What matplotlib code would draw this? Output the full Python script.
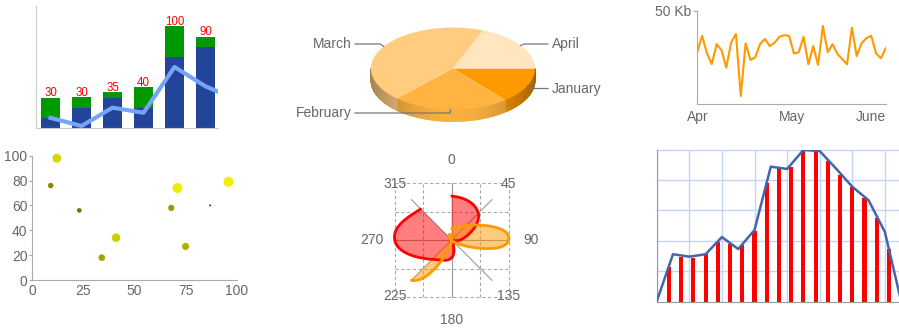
import numpy as np
import matplotlib
matplotlib.use("Agg")
import matplotlib.pyplot as plt
from matplotlib.path import Path
from matplotlib.patches import PathPatch
from matplotlib.collections import PolyCollection
from matplotlib.colors import to_rgb

plt.rcParams['font.family'] = ['Liberation Sans', 'DejaVu Sans']

# ---------------- data ----------------
# stacked bars with an overlay line
bar_blue = [10, 20, 30, 20, 70, 80]
bar_green = [20, 10, 5, 20, 30, 10]
bar_line = [10, 2, 20, 15, 60, 41, 28]

# 3D pie
pie_labels = ['January', 'February', 'March', 'April']
pie_values = [14, 23, 44, 19]

# traffic line
traffic_kb = [28.1, 36.6, 27.2, 21.5, 32.1, 29.0, 19.6, 32.9, 37.6, 4.4,
              32.6, 23.7, 25.1, 32.2, 34.9, 31.1, 32.9, 36.1, 36.9, 36.6,
              27.2, 27.8, 36.1, 21.4, 31.1, 21.0, 41.8, 27.8, 32.1, 26.9,
              24.2, 21.4, 40.9, 25.8, 32.6, 35.3, 36.6, 27.2, 24.6, 29.9]
traffic_months = ['Apr', 'May', 'June']

# scatter (x, y, size)
scatter_x = [12, 87, 75, 41, 23, 96, 68, 71, 34, 9]
scatter_y = [98, 60, 27, 34, 56, 79, 58, 74, 18, 76]
scatter_size = [84, 23, 69, 81, 47, 94, 60, 93, 64, 54]

# radar
radar_labels = ['0', '45', '90', '135', '180', '225', '270', '315']
radar_red = [77, 66, 15, 0, 31, 48, 100, 77]
radar_orange = [20, 36, 100, 2, 0, 100]

# line with drop bars
area_line = [0, 31.1, 29.5, 31.1, 42.4, 34.5, 47.0, 88.7, 87.2, 99.7,
             99.0, 87.5, 75.5, 66.6, 45.7, 0]
area_bars = [22.9, 29.5, 28.8, 31.1, 39.3, 37.6, 37.2, 46.4, 77.8, 87.6,
             88.7, 99.7, 98.6, 92.4, 83.2, 75.5, 67.9, 55.1, 34.5]

LABEL = '#676767'
W, H = 899, 328
fig = plt.figure(figsize=(W / 100, H / 100), dpi=100)


def px_axes(x0, y0, x1, y1):
    return fig.add_axes([x0 / W, 1 - y1 / H, (x1 - x0) / W, (y1 - y0) / H])


# ---------------- stacked bars ----------------
ax1 = px_axes(36, 6, 218, 128)
idx = np.arange(len(bar_blue))
blue = np.array(bar_blue)
green = np.array(bar_green)
ax1.bar(idx, blue, width=0.61, color='#224499', zorder=2)
ax1.bar(idx, green, bottom=blue, width=0.61, color='#009900', zorder=2)
for i, t in enumerate(blue + green):
    ax1.annotate(str(t), (i, t), xytext=(0, 1), textcoords='offset points',
                 ha='center', va='baseline', color='#FF0000', fontsize=8.3)
ax1.plot(np.arange(len(bar_line)), bar_line, color='#76A4FB', lw=3,
         solid_joinstyle='round', zorder=3)
ax1.set_xlim(-0.468, 5.403)
ax1.set_ylim(0, 120)
for s in ['top', 'right']:
    ax1.spines[s].set_visible(False)
for s in ['left', 'bottom']:
    ax1.spines[s].set_color('#cccccc')
ax1.set_xticks([])
ax1.set_yticks([])

# ---------------- 3D pie ----------------
cx, cy, ra, rb, thick = 453.0, 68.5, 82.0, 41.0, 12.0
axp = px_axes(290, 0, 620, 135)
base = np.array(to_rgb('#FF9900'))
tints = [base + (1 - base) * k for k in (0.0, 0.25, 0.5, 0.75)]
vals = np.array(pie_values, dtype=float)
edges = np.concatenate([[0], np.cumsum(vals / vals.sum()) * 360])

# side wall (front half), shaded across its width
h = thick / rb
polys, cols = [], []
step = 1.0
for t0 in np.arange(0, 180, step):
    t1 = t0 + step
    tm = np.radians(t0 + step / 2)
    k = min(np.searchsorted(edges, t0 + step / 2) - 1, len(vals) - 1)
    a0, a1 = np.radians(t0), np.radians(t1)
    p0 = (np.cos(a0), -np.sin(a0))
    p1 = (np.cos(a1), -np.sin(a1))
    polys.append([p0, p1, (p1[0], p1[1] - h), (p0[0], p0[1] - h)])
    shade = 0.65 + 0.33 * np.sin(tm) ** 2
    cols.append(np.clip(tints[k] * shade, 0, 1))
pc = PolyCollection(polys, facecolors=cols, edgecolors=cols, linewidths=0.6,
                    zorder=1)
axp.add_collection(pc)

axp.pie(vals, colors=tints, startangle=0, counterclock=False, radius=1,
        wedgeprops=dict(linewidth=0, zorder=2))
axp.set_aspect('auto')
axp.set_xlim((290 - cx) / ra, (620 - cx) / ra)
axp.set_ylim(-(135 - cy) / rb, cy / rb)
axp.axis('off')

label_y = [88.5, 113, 44, 44]
for lab, k, ly in zip(pie_labels, range(len(vals)), label_y):
    m = np.radians((edges[k] + edges[k + 1]) / 2)
    rx, ry = cx + ra * np.cos(m), cy + rb * np.sin(m)
    ex = rx + 4 * np.cos(m)
    if np.cos(m) > 0:
        end, tx, ha = 548, 552, 'left'
    else:
        end, tx, ha = 355, 352, 'right'
    xs = np.array([rx, ex, end])
    ys = np.array([ry, ly, ly])
    axp.plot((xs - cx) / ra, (cy - ys) / rb, color='#777777', lw=0.9,
             zorder=3, clip_on=False)
    axp.text((tx - cx) / ra, (cy - ly) / rb, lab, ha=ha, va='center',
             color=LABEL, fontsize=10)

# ---------------- traffic line ----------------
ax3 = px_axes(697.3, 10.7, 885.7, 104.3)
ax3.plot(np.arange(len(traffic_kb)), traffic_kb, color='#FF9900', lw=1.5)
ax3.set_xlim(0, len(traffic_kb) - 1)
ax3.set_ylim(0, 50)
for s in ['top', 'right']:
    ax3.spines[s].set_visible(False)
for s in ['left', 'bottom']:
    ax3.spines[s].set_color('#aaaaaa')
ax3.set_yticks([50])
ax3.set_yticklabels(['50 Kb'])
n = len(traffic_kb) - 1
ax3.set_xticks([0, n / 2, n])
ax3.set_xticklabels(traffic_months)
ax3.tick_params(axis='y', length=3, color='#aaaaaa', pad=1, labelsize=10,
                labelcolor=LABEL)
ax3.tick_params(axis='x', length=0, pad=4, labelsize=10, labelcolor=LABEL)
# keep the last month label inside the right edge
last = ax3.get_xticklabels()[-1]
last.set_horizontalalignment('right')
last.set_x(n + 0.6)

# ---------------- scatter ----------------
ax4 = px_axes(32.3, 155.7, 236.7, 280)
sz = np.array(scatter_size, dtype=float)
diam_pt = (0.113 * sz - 0.6) * 0.72
colors = [(v / 100, v / 100, 0) for v in sz]
ax4.scatter(scatter_x, scatter_y, s=diam_pt ** 2, c=colors, linewidths=0,
            clip_on=False, zorder=3)
ax4.set_xlim(0, 100)
ax4.set_ylim(0, 100)
for s in ['top', 'right']:
    ax4.spines[s].set_visible(False)
for s in ['left', 'bottom']:
    ax4.spines[s].set_color('#aaaaaa')
ax4.set_xticks([0, 25, 50, 75, 100])
ax4.set_yticks([0, 20, 40, 60, 80, 100])
ax4.tick_params(axis='y', length=2.5, color='#aaaaaa', pad=1, labelsize=10,
                labelcolor=LABEL)
ax4.tick_params(axis='x', length=0, pad=3, labelsize=10, labelcolor=LABEL)

# ---------------- radar ----------------
rcx, rcy, rr = 451.7, 240.0, 57.0
axr = px_axes(360, 145, 545, 328)
axr.set_xlim((360 - rcx) / rr, (545 - rcx) / rr)
axr.set_ylim(-(328 - rcy) / rr, (rcy - 145) / rr)
axr.axis('off')
dash = (0, (3, 2.2))
for g in [-1, -0.5, 0, 0.5, 1]:
    axr.plot([g, g], [-1, 1], ls=dash, color='#aaaaaa', lw=0.8, zorder=1)
    axr.plot([-1, 1], [g, g], ls=dash, color='#aaaaaa', lw=0.8, zorder=1)
n_spokes = len(radar_labels)
for k, lab in enumerate(radar_labels):
    th = np.radians(k * 360 / n_spokes)
    axr.plot([0, np.sin(th)], [0, np.cos(th)], color='#999999', lw=0.8,
             zorder=1)
    axr.text(1.4 * np.sin(th), 1.4 * np.cos(th), lab, ha='center',
             va='center', color=LABEL, fontsize=10)


def radar_path(values):
    """Smooth open curve: cubic Hermite in (angle, radius), drawn as
    Cartesian Bezier segments with matching end points and tangents."""
    r = np.array(values, dtype=float) / 100
    dth = 2 * np.pi / n_spokes
    th = np.arange(len(r)) * dth
    rp = np.concatenate([[r[0]], r, [r[-1]]])
    m = (rp[2:] - rp[:-2]) / (2 * dth)
    P = np.column_stack([r * np.sin(th), r * np.cos(th)])
    T = np.column_stack([m * np.sin(th) + r * np.cos(th),
                         m * np.cos(th) - r * np.sin(th)])
    verts, codes = [P[0]], [Path.MOVETO]
    for i in range(len(r) - 1):
        verts += [P[i] + T[i] * dth / 3, P[i + 1] - T[i + 1] * dth / 3,
                  P[i + 1]]
        codes += [Path.CURVE4] * 3
    return verts, codes


series = [(radar_red, '#FF0000'), (radar_orange, '#FF9900')]
for vals_r, col in series:
    v, c = radar_path(vals_r)
    fv = [(0, 0)] + v + [(0, 0), (0, 0)]
    fc = [Path.MOVETO, Path.LINETO] + c[1:] + [Path.LINETO, Path.CLOSEPOLY]
    axr.add_patch(PathPatch(Path(fv, fc), facecolor=col, alpha=0.5,
                            edgecolor='none', zorder=2))
for vals_r, col in series:
    v, c = radar_path(vals_r)
    axr.add_patch(PathPatch(Path(v, c), facecolor='none', edgecolor=col,
                            lw=2, zorder=3, capstyle='round'))

# ---------------- line with drop bars ----------------
ax6 = px_axes(656.7, 149.5, 901.2, 301.5)
xb = 0.75 * np.arange(1, len(area_bars) + 1)
ax6.bar(xb, area_bars, width=0.25, color='#FF0000', zorder=2)
ax6.plot(np.arange(len(area_line)), area_line, color='#4465AA', lw=1.8,
         zorder=3)
ax6.set_xlim(0, len(area_line) - 1)
ax6.set_ylim(0, 100)
ax6.set_xticks(np.arange(0, len(area_line) - 1, 2))
ax6.set_yticks([20, 40, 60, 80, 100])
ax6.grid(True, color='#c4d4f6', lw=1)
ax6.set_axisbelow(True)
for ln in ax6.get_ygridlines():
    ln.set_clip_on(False)
ax6.tick_params(length=0, labelbottom=False, labelleft=False)
for s in ['top', 'right']:
    ax6.spines[s].set_visible(False)
for s in ['left', 'bottom']:
    ax6.spines[s].set_color('#999999')

fig.savefig('out.png', dpi=100)
